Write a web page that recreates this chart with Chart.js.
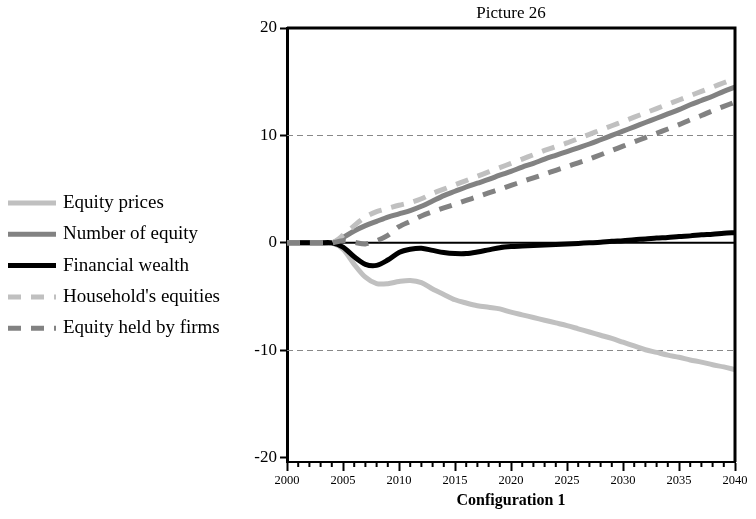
<!DOCTYPE html>
<html>
<head>
<meta charset="utf-8">
<script src="https://cdn.jsdelivr.net/npm/chart.js@4"></script>
<style>
  html, body { margin: 0; padding: 0; background: #fff; }
  #wrap { width: 756px; height: 519px; }
</style>
</head>
<body>
<div id="wrap"><canvas id="myChart" width="756" height="519"></canvas></div>
<script>
// years on the x axis
const years = [];
for (let y = 2000; y <= 2040; y++) years.push(y);

const yTicks = [-20, -10, 0, 10, 20];

const equityPrices = [0, 0, 0, 0, 0, -0.6, -2.0, -3.2, -3.8, -3.8,
  -3.6, -3.5, -3.7, -4.3, -4.8, -5.3, -5.6, -5.85, -6.0, -6.15,
  -6.45, -6.7, -6.95, -7.2, -7.45, -7.7, -8.0, -8.3, -8.6, -8.9,
  -9.25, -9.6, -9.95, -10.2, -10.45, -10.65, -10.9, -11.1, -11.35, -11.55, -11.8];

const numberOfEquity = [0, 0, 0, 0, 0, 0.5, 1.1, 1.6, 2.0, 2.4,
  2.7, 3.0, 3.4, 3.9, 4.4, 4.8, 5.2, 5.55, 5.9, 6.3,
  6.65, 7.05, 7.4, 7.8, 8.15, 8.5, 8.85, 9.2, 9.6, 10.0,
  10.4, 10.8, 11.2, 11.6, 12.0, 12.4, 12.85, 13.25, 13.65, 14.1, 14.5];

const financialWealth = [0, 0, 0, 0, 0, -0.4, -1.3, -2.0, -2.1, -1.6,
  -0.9, -0.6, -0.5, -0.7, -0.9, -1.0, -1.0, -0.85, -0.65, -0.45,
  -0.35, -0.3, -0.25, -0.2, -0.15, -0.1, -0.05, 0.0, 0.05, 0.15,
  0.2, 0.3, 0.35, 0.45, 0.5, 0.6, 0.65, 0.75, 0.8, 0.9, 0.95];

const householdEquities = [0, 0, 0, 0, 0, 0.7, 1.6, 2.4, 2.9, 3.2,
  3.5, 3.75, 4.1, 4.6, 5.0, 5.4, 5.8, 6.2, 6.6, 7.0,
  7.4, 7.8, 8.2, 8.6, 8.95, 9.3, 9.7, 10.1, 10.5, 10.9,
  11.3, 11.7, 12.1, 12.5, 12.9, 13.3, 13.7, 14.1, 14.5, 14.9, 15.3];

const equityFirms = [0, 0, 0, 0, 0, 0.2, 0.05, -0.1, 0.2, 0.7,
  1.5, 2.0, 2.5, 2.9, 3.25, 3.6, 3.95, 4.3, 4.65, 5.0,
  5.35, 5.7, 6.05, 6.4, 6.75, 7.1, 7.45, 7.8, 8.2, 8.6,
  9.0, 9.4, 9.8, 10.2, 10.6, 11.0, 11.45, 11.85, 12.3, 12.7, 13.1];

const labels = ['Equity prices', 'Number of equity', 'Financial wealth', "Household's equities", 'Equity held by firms'];
const colors = ['#c0c0c0', '#828282', '#000000', '#c0c0c0', '#828282'];
const dashes = [[], [], [], [13, 10], [13, 10]];
const series = [equityPrices, numberOfEquity, financialWealth, householdEquities, equityFirms];

const FONT = "'Liberation Serif', 'DejaVu Serif', serif";

function pts(values) {
  return values.map((v, i) => ({ x: years[i], y: v }));
}

const decor = {
  id: 'decor',
  beforeDatasetsDraw(chart) {
    const ctx = chart.ctx;
    const a = chart.chartArea;
    const ys = chart.scales.y;
    ctx.save();
    ctx.strokeStyle = '#888';
    ctx.lineWidth = 1;
    ctx.setLineDash([6, 4]);
    [10, -10].forEach(v => {
      const py = Math.round(ys.getPixelForValue(v)) + 0.5;
      ctx.beginPath();
      ctx.moveTo(a.left, py);
      ctx.lineTo(a.right, py);
      ctx.stroke();
    });
    ctx.setLineDash([]);
    ctx.strokeStyle = '#000';
    ctx.lineWidth = 2;
    const p0 = ys.getPixelForValue(0);
    ctx.beginPath();
    ctx.moveTo(a.left, p0);
    ctx.lineTo(a.right, p0);
    ctx.stroke();
    ctx.restore();
  },
  afterDraw(chart) {
    const ctx = chart.ctx;
    const a = chart.chartArea;
    const xs = chart.scales.x;
    ctx.save();
    // frame top and right
    ctx.strokeStyle = '#000';
    ctx.lineWidth = 3;
    ctx.beginPath();
    ctx.moveTo(a.left, a.top);
    ctx.lineTo(a.right, a.top);
    ctx.lineTo(a.right, a.bottom);
    ctx.stroke();
    // minor ticks
    ctx.lineWidth = 2;
    years.forEach(yr => {
      if (yr % 5 === 0) return;
      const px = xs.getPixelForValue(yr);
      ctx.beginPath();
      ctx.moveTo(px, a.bottom);
      ctx.lineTo(px, a.bottom + 5);
      ctx.stroke();
    });
    // title
    ctx.fillStyle = '#000';
    ctx.font = '17px ' + FONT;
    ctx.textAlign = 'center';
    ctx.textBaseline = 'middle';
    ctx.fillText('Picture 26', (a.left + a.right) / 2, 14);
    // legend
    ctx.textAlign = 'left';
    ctx.font = '19px ' + FONT;
    labels.forEach((lab, i) => {
      const ly = 203 + i * 31.3;
      ctx.strokeStyle = colors[i];
      ctx.lineWidth = 5;
      ctx.setLineDash(dashes[i]);
      ctx.beginPath();
      ctx.moveTo(8, ly);
      ctx.lineTo(56, ly);
      ctx.stroke();
      ctx.setLineDash([]);
      ctx.fillText(lab, 63, ly);
    });
    ctx.restore();
  }
};

const ctx = document.getElementById('myChart').getContext('2d');
const myChart = new Chart(ctx, {
  type: 'line',
  data: {
    datasets: series.map((s, i) => ({
      label: labels[i],
      data: pts(s),
      borderColor: colors[i],
      borderWidth: 5,
      borderDash: dashes[i],
      pointRadius: 0,
      tension: 0.3,
      fill: false,
      order: 5 - i
    }))
  },
  options: {
    responsive: false,
    animation: false,
    layout: { padding: { left: 0, right: 21, top: 28, bottom: 0 } },
    plugins: {
      legend: { display: false },
      tooltip: { enabled: false },
      title: { display: false }
    },
    scales: {
      x: {
        type: 'linear',
        min: 2000,
        max: 2040,
        afterFit(scale) { scale.height = 57; },
        ticks: {
          stepSize: 1,
          autoSkip: false,
          maxRotation: 0,
          padding: 2,
          color: '#000',
          font: { family: FONT, size: 12.5 },
          callback: v => (v % 5 === 0 ? String(v) : '')
        },
        grid: {
          drawOnChartArea: false,
          drawTicks: true,
          tickLength: 9,
          tickWidth: 2,
          tickColor: c => (c.tick && c.tick.value % 5 === 0 ? '#000' : 'rgba(0,0,0,0)')
        },
        border: { color: '#000', width: 2 },
        title: {
          display: true,
          text: 'Configuration 1',
          color: '#000',
          font: { family: FONT, size: 16, weight: 'bold' },
          padding: { top: 0, bottom: 9 }
        }
      },
      y: {
        min: -20.4,
        max: 20,
        afterFit(scale) { scale.width = 287; },
        afterBuildTicks(scale) { scale.ticks = yTicks.map(v => ({ value: v })); },
        ticks: {
          color: '#000',
          padding: 3,
          font: { family: FONT, size: 17 },
          callback: v => String(v)
        },
        grid: {
          drawOnChartArea: false,
          drawTicks: true,
          tickLength: 7,
          tickWidth: 2,
          tickColor: '#000'
        },
        border: { color: '#000', width: 3 }
      }
    }
  },
  plugins: [decor]
});
</script>
</body>
</html>
